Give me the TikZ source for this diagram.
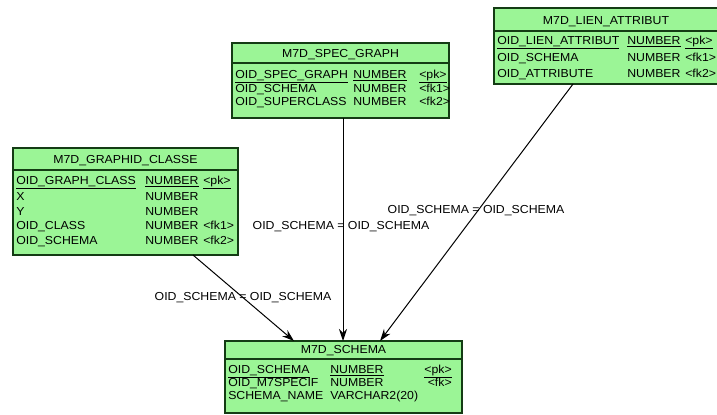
\documentclass[tikz,border=0pt]{standalone}
\usepackage{fontspec}
\setmainfont{Liberation Sans}[FakeStretch=1.06]
\usetikzlibrary{arrows.meta,fit}
\definecolor{tgreen}{RGB}{155,245,150}
\definecolor{tline}{RGB}{20,60,20}
\tikzset{
  tbox/.style={draw=tline, fill=tgreen, line width=0.8pt, inner sep=0pt, outer sep=0pt},
  sepline/.style={draw=tline, line width=0.8pt},
  cell/.style={inner sep=0pt, anchor=base west, font=\fontsize{8.7}{10}\selectfont},
  rcell/.style={cell, anchor=base east},
  ttl/.style={inner sep=0pt, anchor=base, font=\fontsize{8.7}{10}\selectfont},
  lbl/.style={inner sep=0pt, anchor=center, font=\fontsize{8.7}{10}\selectfont},
  rel/.style={draw=black, line width=0.75pt, -{Stealth[length=9pt,width=6pt]}}
}
\begin{document}
\begin{tikzpicture}[x=0.75pt,y=-0.75pt]
\useasboundingbox (0,0) rectangle (717,414);
\begin{scope}
\clip (0,0) rectangle (717,414);
% ---------- M7D_SPEC_GRAPH ----------
\node[tbox, fit={(232,43)(449,118)}] (spec) {};
\draw[sepline] (232,63) -- (449,63);
\node[ttl] (specT) at (340.5,57) {M7D\_SPEC\_GRAPH};
\node[cell] (spec11) at (235,78) {\underline{OID\_SPEC\_GRAPH}};
\node[cell] (spec12) at (353,78) {\underline{NUMBER}};
\node[cell] (spec13) at (419,78) {\underline{<pk>}};
\node[cell] (spec21) at (235,92) {OID\_SCHEMA};
\node[cell] (spec22) at (353,92) {NUMBER};
\node[cell] (spec23) at (419,92) {<fk1>};
\node[cell] (spec31) at (235,105) {OID\_SUPERCLASS};
\node[cell] (spec32) at (353,105) {NUMBER};
\node[cell] (spec33) at (419,105) {<fk2>};
% ---------- M7D_LIEN_ATTRIBUT ----------
\node[tbox, fit={(494,8)(724,84)}] (lien) {};
\draw[sepline] (494,31) -- (724,31);
\node[ttl] (lienT) at (606,24) {M7D\_LIEN\_ATTRIBUT};
\node[cell] (lien11) at (497,44) {\underline{OID\_LIEN\_ATTRIBUT}};
\node[cell] (lien12) at (627,44) {\underline{NUMBER}};
\node[cell] (lien13) at (685,44) {\underline{<pk>}};
\node[cell] (lien21) at (497,61) {OID\_SCHEMA};
\node[cell] (lien22) at (627,61) {NUMBER};
\node[cell] (lien23) at (685,61) {<fk1>};
\node[cell] (lien31) at (497,77) {OID\_ATTRIBUTE};
\node[cell] (lien32) at (627,77) {NUMBER};
\node[cell] (lien33) at (685,77) {<fk2>};
% ---------- M7D_GRAPHID_CLASSE ----------
\node[tbox, fit={(13,148)(238,255)}] (graph) {};
\draw[sepline] (13,170) -- (238,170);
\node[ttl] (graphT) at (125.5,163) {M7D\_GRAPHID\_CLASSE};
\node[cell] (graph11) at (16,184) {\underline{OID\_GRAPH\_CLASS}};
\node[cell] (graph12) at (145,184) {\underline{NUMBER}};
\node[cell] (graph13) at (203,184) {\underline{<pk>}};
\node[cell] (graph21) at (16,200) {X};
\node[cell] (graph22) at (145,200) {NUMBER};
\node[cell] (graph31) at (16,215) {Y};
\node[cell] (graph32) at (145,215) {NUMBER};
\node[cell] (graph41) at (16,229) {OID\_CLASS};
\node[cell] (graph42) at (145,229) {NUMBER};
\node[cell] (graph43) at (203,229) {<fk1>};
\node[cell] (graph51) at (16,244) {OID\_SCHEMA};
\node[cell] (graph52) at (145,244) {NUMBER};
\node[cell] (graph53) at (203,244) {<fk2>};
% ---------- M7D_SCHEMA ----------
\node[tbox, fit={(225,341)(462,413)}] (schema) {};
\draw[sepline] (225,359) -- (462,359);
\node[ttl] (schemaT) at (343.5,353) {M7D\_SCHEMA};
\node[cell] (sch11) at (228,373) {\underline{OID\_SCHEMA}};
\node[cell] (sch12) at (330,373) {\underline{NUMBER}};
\node[rcell] (sch13) at (452,373) {\underline{<pk>}};
\node[cell] (sch21) at (228,386) {OID\_M7SPECIF};
\node[cell] (sch22) at (330,386) {NUMBER};
\node[rcell] (sch23) at (452,386) {<fk>};
\node[cell] (sch31) at (228,399) {SCHEMA\_NAME};
\node[cell] (sch32) at (330,399) {VARCHAR2(20)};
% ---------- labels ----------
\node[lbl] (l1) at (243,298) {OID\_SCHEMA = OID\_SCHEMA};
\node[lbl] (l2) at (341,227) {OID\_SCHEMA = OID\_SCHEMA};
\node[lbl] (l3) at (476,211) {OID\_SCHEMA = OID\_SCHEMA};
% ---------- relations ----------
\draw[rel] ([xshift=135pt]graph.south west) -- ([xshift=51.75pt]schema.north west);
\draw[rel] ([xshift=83.25pt]spec.south west) -- ([xshift=88.5pt]schema.north west);
\draw[rel] ([xshift=59.25pt]lien.south west) -- ([xshift=116.25pt]schema.north west);
\end{scope}
\end{tikzpicture}
\end{document}
